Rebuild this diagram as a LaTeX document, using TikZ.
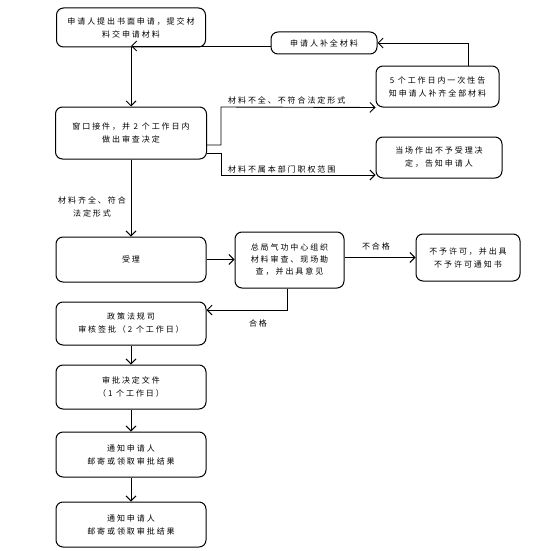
\documentclass[tikz,border=0pt]{standalone}
\usepackage{fontspec}
\setmainfont{Noto Sans CJK SC}[LetterSpace=24]
\usetikzlibrary{arrows.meta}
\begin{document}
\begin{tikzpicture}[x=1pt,y=-1pt,
 box/.style={draw, rounded corners=7pt, line width=1pt, align=center, font=\fontsize{8}{13}\selectfont, inner sep=0pt},
 lbl/.style={font=\fontsize{8}{13}\selectfont, align=center, inner sep=0pt},
 conn/.style={draw, line width=0.9pt, -{Straight Barb[length=5pt,width=10pt]}}]
\useasboundingbox[fill=white] (0,0) rectangle (551,551);
\node[box, minimum width=149pt, minimum height=39pt] (b1) at (131,27.5) {申请人提出书面申请，提交材\\料交申请材料};
\node[box, minimum width=106pt, minimum height=22pt] (bsup) at (324,43) {申请人补全材料};
\node[box, minimum width=123pt, minimum height=41pt] (b5) at (437.5,86.5) {5 个工作日内一次性告\\知申请人补齐全部材料};
\node[box, minimum width=151pt, minimum height=52pt] (bwin) at (131,133) {窗口接件，并 2 个工作日内\\做出审查决定};
\node[box, minimum width=126pt, minimum height=41pt] (bno) at (439,157.5) {当场作出不予受理决\\定，告知申请人};
\node[box, minimum width=150pt, minimum height=45pt] (bacc) at (131,259.5) {受理};
\node[box, minimum width=109pt, minimum height=56pt, font=\fontsize{8}{12}\selectfont] (bzj) at (289.5,260) {总局气功中心组织\\材料审查、现场勘\\查，并出具意见};
\node[box, minimum width=104pt, minimum height=47pt] (bnp) at (468,257.5) {不予许可，并出具\\不予许可通知书};
\node[box, minimum width=150pt, minimum height=43pt] (bzc) at (131,323.5) {政策法规司\\审核签批（2 个工作日）};
\node[box, minimum width=150pt, minimum height=44pt] (bsp) at (131,387) {审批决定文件\\（1 个工作日）};
\node[box, minimum width=150pt, minimum height=45pt] (bt1) at (131,454.5) {通知申请人\\邮寄或领取审批结果};
\node[box, minimum width=150pt, minimum height=45pt] (bt2) at (131,524.5) {通知申请人\\邮寄或领取审批结果};
% labels
\node[lbl, anchor=west] (l1) at (228,100) {材料不全、不符合法定形式};
\node[lbl, anchor=west] (l2) at (228,169) {材料不属本部门职权范围};
\node[lbl] (l3) at (92,207) {材料齐全、符合\\法定形式};
\node[lbl] (l4) at (376,246) {不合格};
\node[lbl] (l5) at (258,323) {合格};
% coordinates
\coordinate (m1) at (131,46);
\coordinate (c5) at (468,43);
\coordinate (w1) at (221,107);
\coordinate (w2) at (221,175);
\coordinate (z1) at (287,310);
% connectors
\draw[conn] (b1.south) -- (bwin.north);
\draw[conn] (bsup.west |- m1) -- (m1);
\draw[conn] (b5.north -| c5) -- (c5) -- (bsup.east |- c5);
\draw[conn] ([yshift=-12pt]bwin.east) -| (w1) -- (b5.south west);
\draw[conn] ([yshift=-20pt]bwin.east) -| (w2) -- (bno.west |- w2);
\draw[conn] (bwin.south) -- (bacc.north);
\draw[conn] (bacc.east) -- (bzj.west |- bacc.east);
\draw[conn] (bzj.east |- bnp.west) -- (bnp.west);
\draw[conn] (bzj.south -| z1) -- (z1) -- (bzc.east |- z1);
\draw[conn] (bzc.south) -- (bsp.north);
\draw[conn] (bsp.south) -- (bt1.north);
\draw[conn] (bt1.south) -- (bt2.north);
\end{tikzpicture}
\end{document}
